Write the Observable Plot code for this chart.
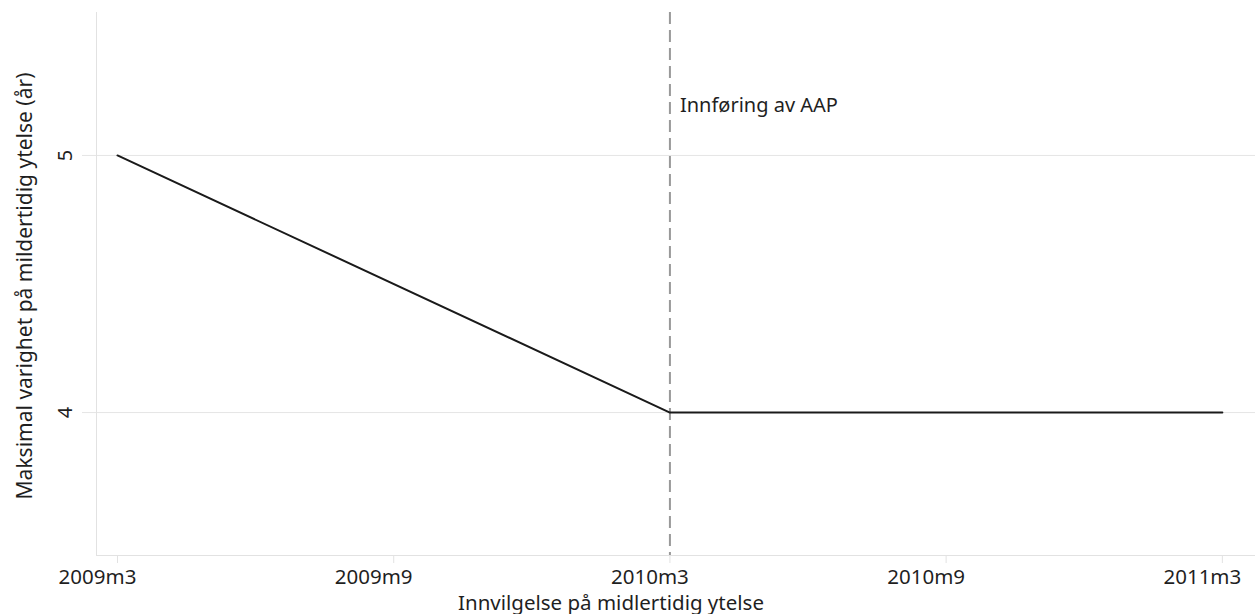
<!DOCTYPE html>
<html>
<head>
<meta charset="utf-8">
<script src="https://cdn.jsdelivr.net/npm/d3@7"></script>
<script src="https://cdn.jsdelivr.net/npm/@observablehq/plot@0.6"></script>
<style>
  html, body { margin: 0; padding: 0; background: #fff; }
  #chart { font-family: "Noto Sans", "Open Sans", sans-serif; }
</style>
</head>
<body>
<div id="chart"></div>
<script>
// Data
const periods = ["2009m3", "2010m3", "2011m3"];
const maxYears = [5, 4, 4];
const tickLabels = ["2009m3", "2009m9", "2010m3", "2010m9", "2011m3"];
const yTicks = [4, 5];
const eventPeriod = "2010m3";
const eventLabel = "Innføring av AAP";
const eventLabelY = 5.195;
const xTitle = "Innvilgelse på midlertidig ytelse";
const yTitle = "Maksimal varighet på mildertidig ytelse (år)";

// month index relative to 2009m3
const base = 2009 * 12 + 3;
const idx = s => { const [y, m] = s.split("m").map(Number); return y * 12 + m - base; };
const data = periods.map((p, i) => ({ t: idx(p), v: maxYears[i] }));
const tickIdx = tickLabels.map(idx);
const labelOf = new Map(tickLabels.map(l => [idx(l), l]));

const ink = "#1f1f1f";
const chart = Plot.plot({
  width: 1255,
  height: 614,
  marginLeft: 96,
  marginRight: 0,
  marginTop: 12,
  marginBottom: 59,
  style: { fontFamily: "Noto Sans, Open Sans, sans-serif", fontSize: "20px", color: ink, background: "#fff" },
  x: { domain: [-0.456, 24.72] },
  y: { domain: [3.444, 5.556] },
  marks: [
    Plot.gridY(yTicks, { stroke: "#e5e5e5", strokeOpacity: 1, strokeWidth: 1 }),
    Plot.frame({ anchor: "left", stroke: "#e2e2e2" }),
    Plot.frame({ anchor: "bottom", stroke: "#e2e2e2" }),
    Plot.axisY(yTicks, { tickSize: 14, stroke: "#e5e5e5", text: null, label: null }),
    Plot.text(yTicks, { y: d => d, frameAnchor: "left", textAnchor: "middle", dx: -31, rotate: -90, fontSize: 20, fill: ink, text: d => String(d) }),
    Plot.text([yTitle], { frameAnchor: "left", textAnchor: "middle", dx: -71, dy: 2, rotate: -90, fontSize: 21, fill: ink }),
    Plot.axisX(tickIdx, { tickSize: 8, stroke: "#e2e2e2", text: null, label: null }),
    Plot.axisX(tickIdx, {
      tickSize: 0, tickPadding: 14, dx: -20, fontSize: 20.5, fill: ink,
      tickFormat: d => labelOf.get(d), label: null
    }),
    Plot.text([xTitle], { frameAnchor: "bottom", dy: 54, dx: -65, fontSize: 20.5, fill: ink, lineAnchor: "bottom" }),
    Plot.ruleX([idx(eventPeriod)], { stroke: "#999", strokeWidth: 2, strokeDasharray: "12,6" }),
    Plot.text([eventLabel], { x: idx(eventPeriod), y: eventLabelY, dx: 10, textAnchor: "start", fontSize: 20, fill: ink }),
    Plot.line(data, { x: "t", y: "v", stroke: "#1a1a1a", strokeWidth: 2 })
  ]
});
document.getElementById("chart").appendChild(chart);
</script>
</body>
</html>
